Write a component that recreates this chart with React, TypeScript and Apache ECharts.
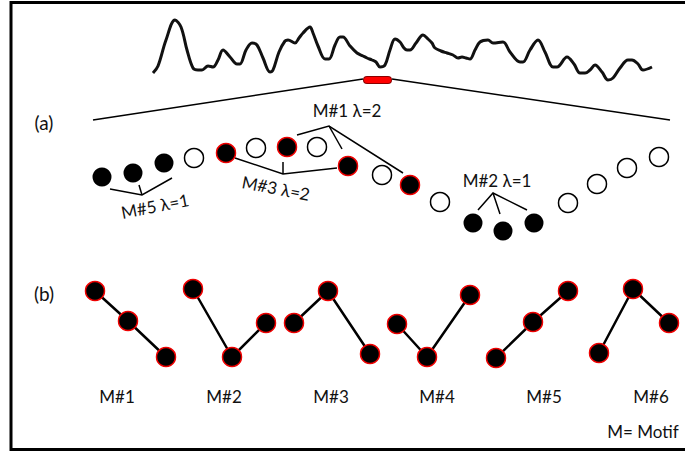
import React, { useEffect, useRef } from "react";
import * as echarts from "echarts";

// Raw signal (top trace): x position along the series and amplitude (screen units)
const waveX = [153,158,166,175,181,187,193,198,202,208,213,218,223,230,237,240,246,252,257,263,270,273,279,285,288,295,299,303,310,313,318,325,329,335,340,343,350,357,363,367,372,376,380,385,390,395,400,404,407,410,416,423,428,432,435,441,447,453,458,462,466,470,475,480,488,493,503,510,520,523,530,538,545,553,557,567,574,580,585,590,595,602,608,613,620,628,632,638,643,652];
const waveY = [73,66,40,20,27,50,68,70,70,66,67,60,50,57,64,64,50,43,45,58,72,70,52,41,40,43,38,33,27,33,46,59,59,45,37,37,46,53,56,58,60,62,67,65,50,39,42,48,50,50,43,35,39,43,48,51,53,55,58,57,58,59,50,42,40,43,42,52,62,62,50,40,52,67,67,57,64,73,73,70,65,72,80,78,68,60,60,64,70,67];

// Highlighted window on the raw signal
const windowSpan = [[367, 79.5], [388, 79.5]];
const zoomLeft = [[93, 120], [363, 79]];
const zoomRight = [[392, 79], [670, 120]];

// (a) subsequence samples: x, y, kind (0 = plain filled, 1 = open, 2 = motif member)
const seqX = [102,133,164,194,226,256,287,317,348,382,410,440,473,503,534,568,597,627,659];
const seqY = [177,173,163,158,153,148,147,147,166,175,185,202,223,231,223,203,184,168,157];
const seqKind = [0,0,0,1,2,1,2,1,2,1,2,1,0,0,0,1,1,1,1];

// Annotation brackets
const annotations = [
  [[110,189],[142,195],[172,178]],
  [[139,185],[142,195]],
  [[235,158],[283,174],[337,168]],
  [[283,162],[283,174]],
  [[297,135],[329,126],[403,173]],
  [[329,126],[342,149]],
  [[478,210],[493,193],[527,210]],
  [[493,193],[500,214]],
];

// (b) the six 3-point motifs
const motifNames = ["M#1","M#2","M#3","M#4","M#5","M#6"];
const motifs = [
  [[95,291],[128,321],[166,357]],
  [[193,289],[232,357],[266,323]],
  [[294,323],[328,291],[370,354]],
  [[397,324],[427,357],[470,295]],
  [[496,358],[533,322],[568,291]],
  [[599,353],[633,289],[669,323]],
];
const motifLabelX = [117,224,331,437,544,651];

const FONT = "Lato, 'Open Sans', 'Noto Sans', sans-serif";

export default function App() {
  const ref = useRef<HTMLDivElement>(null);
  useEffect(() => {
    if (!ref.current) return;
    const chart = echarts.init(ref.current, null, { renderer: "svg" });
    const seq = seqX.map((x, i) => [x, seqY[i], seqKind[i]]);
    const kindStyle = (k: number) =>
      k === 0
        ? { color: "#000", borderColor: "#000", borderWidth: 0, opacity: 1 }
        : k === 1
        ? { color: "#fff", borderColor: "#000", borderWidth: 1.5, opacity: 1 }
        : { color: "#000", borderColor: "#ee0000", borderWidth: 1.5, opacity: 1 };

    const series: any[] = [
      {
        type: "line",
        data: waveX.map((x, i) => [x, waveY[i]]),
        showSymbol: false,
        smooth: 0.35,
        lineStyle: { color: "#111", width: 3 },
        z: 2,
      },
      {
        type: "lines",
        coordinateSystem: "cartesian2d",
        polyline: true,
        data: [{ coords: zoomLeft }, { coords: zoomRight }],
        lineStyle: { color: "#000", width: 1.5, opacity: 1 },
        z: 2,
      },
      {
        type: "lines",
        coordinateSystem: "cartesian2d",
        data: [{ coords: windowSpan }],
        lineStyle: { color: "#8a0000", width: 8, cap: "round", opacity: 1 },
        z: 3,
      },
      {
        type: "lines",
        coordinateSystem: "cartesian2d",
        data: [{ coords: windowSpan }],
        lineStyle: { color: "#ff0000", width: 6, cap: "round", opacity: 1 },
        z: 4,
      },
      {
        type: "lines",
        coordinateSystem: "cartesian2d",
        polyline: true,
        data: annotations.map((c) => ({ coords: c })),
        lineStyle: { color: "#000", width: 1.5, opacity: 1 },
        z: 2,
      },
      {
        type: "scatter",
        data: seq.map((d) => ({ value: [d[0], d[1]], itemStyle: kindStyle(d[2]) })),
        symbol: "circle",
        symbolSize: 19,
        itemStyle: { opacity: 1 },
        z: 5,
      },
    ];
    motifs.forEach((m) => {
      series.push({
        type: "line",
        data: m,
        symbol: "circle",
        symbolSize: 19,
        showSymbol: true,
        lineStyle: { color: "#000", width: 2.5 },
        itemStyle: { color: "#000", borderColor: "#ee0000", borderWidth: 1.5, opacity: 1 },
        z: 5,
      });
    });

    const text = (t: string, x: number, y: number, size: number, rot = 0) => ({
      type: "text",
      x,
      y,
      rotation: rot,
      style: {
        text: t,
        fill: "#111",
        font: `${size}px ${FONT}`,
        align: "center",
        verticalAlign: "middle",
      },
      z: 10,
    });

    chart.setOption({
      animation: false,
      grid: { left: 0, right: 0, top: 0, bottom: 0 },
      xAxis: { type: "value", min: 0, max: 685, show: false },
      yAxis: { type: "value", min: 0, max: 452, inverse: true, show: false },
      series,
      graphic: [
        {
          type: "rect",
          shape: { x: 11, y: 2.5, width: 700, height: 447 },
          style: { fill: "none", stroke: "#000", lineWidth: 3 },
          z: 1,
        },
        text("(a)", 44, 122, 19),
        text("(b)", 44, 293, 19),
        text("M#1 λ=2", 347, 110, 17),
        text("M#3 λ=2", 276, 188, 17, -0.19),
        text("M#5 λ=1", 155, 206, 17, 0.19),
        text("M#2 λ=1", 497, 180, 17),
        ...motifNames.map((n, i) => text(n, motifLabelX[i], 396, 17)),
        text("M= Motif", 643, 431, 17),
      ],
    });
    return () => chart.dispose();
  }, []);
  return (
    <div
      ref={ref}
      style={{ position: "absolute", left: 0, top: 0, width: 685, height: 452, background: "#fff" }}
    />
  );
}
